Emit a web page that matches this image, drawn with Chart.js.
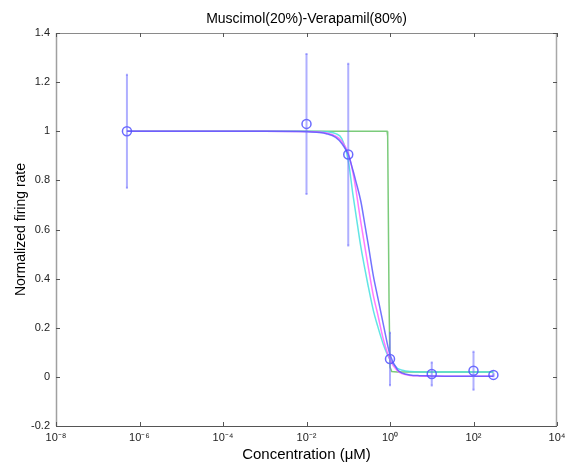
<!DOCTYPE html>
<html>
<head>
<meta charset="utf-8">
<script src="https://cdn.jsdelivr.net/npm/chart.js@4.4.1/dist/chart.umd.min.js"></script>
<style>
  html, body { margin: 0; padding: 0; background: #fff; }
  #wrap { width: 574px; height: 472px; }
</style>
</head>
<body>
<div id="wrap"><canvas id="c" width="574" height="472"></canvas></div>
<script>
// ---- data ----
const chartTitle = 'Muscimol(20%)-Verapamil(80%)';
const xTitle = 'Concentration (\u03BCM)';
const yTitle = 'Normalized firing rate';

const xTickValues = [1e-8, 1e-6, 1e-4, 1e-2, 1e0, 1e2, 1e4];

// measured points (mean +/- error)
const pointX   = [5e-7, 0.01, 0.1, 1, 10, 100, 300];
const pointY   = [1.0, 1.03, 0.905, 0.073, 0.012, 0.025, 0.008];
const pointErr = [0.23, 0.285, 0.37, 0.107, 0.047, 0.077, 0.005];

// fitted curves, values read at these concentrations
const curveX     = [5e-7, 1e-3, 0.01, 0.02, 0.03, 0.05, 0.07, 0.1, 0.13, 0.15, 0.2, 0.25, 0.3, 0.4, 0.5, 0.7, 1, 1.5, 2, 3, 5, 10, 30, 100, 300];
const blueY      = [1, 1, 0.998, 0.995, 0.99, 0.975, 0.95, 0.905, 0.84, 0.80, 0.715, 0.62, 0.54, 0.41, 0.33, 0.21, 0.09, 0.03, 0.015, 0.008, 0.005, 0.004, 0.003, 0.003, 0.003];
const magentaY   = [1, 1, 0.999, 0.997, 0.993, 0.98, 0.96, 0.91, 0.83, 0.77, 0.63, 0.53, 0.45, 0.33, 0.26, 0.15, 0.07, 0.025, 0.012, 0.006, 0.004, 0.003, 0.003, 0.003, 0.003];
const cyanY      = [1, 1, 1, 0.999, 0.998, 0.99, 0.97, 0.88, 0.74, 0.67, 0.53, 0.44, 0.37, 0.27, 0.21, 0.13, 0.07, 0.035, 0.027, 0.022, 0.02, 0.02, 0.02, 0.02, 0.02];
const greenX     = [5e-7, 0.85, 0.88, 0.95, 1.0, 1.1, 1.5, 300];
const greenY     = [1, 1, 0.98, 0.3, 0.04, 0.022, 0.02, 0.02];

// ---- helpers ----
const toXY = (xs, ys) => xs.map((x, i) => ({ x: x, y: ys[i] }));
const SUP = { '-': '\u207B', '0': '\u2070', '1': '\u00B9', '2': '\u00B2', '3': '\u00B3', '4': '\u2074', '5': '\u2075', '6': '\u2076', '7': '\u2077', '8': '\u2078', '9': '\u2079' };
const supStr = s => String(s).split('').map(ch => SUP[ch] || ch).join('');
const fmtY = v => { const r = Math.round(v * 10) / 10; return (Math.abs(r) < 1e-9 ? 0 : r).toString(); };

const FONT = '"Liberation Sans", Arial, Helvetica, sans-serif';

const bgPlugin = {
  id: 'bg',
  beforeDraw(chart) {
    const ctx = chart.ctx;
    ctx.save();
    ctx.fillStyle = '#fff';
    ctx.fillRect(0, 0, chart.width, chart.height);
    ctx.restore();
  }
};

const errorBarPlugin = {
  id: 'errbars',
  afterDatasetsDraw(chart) {
    const { ctx, scales: { x, y } } = chart;
    ctx.save();
    ctx.strokeStyle = 'rgba(110,110,255,0.55)';
    ctx.lineWidth = 2;
    pointX.forEach((vx, i) => {
      const px = x.getPixelForValue(vx);
      const y1 = y.getPixelForValue(pointY[i] + pointErr[i]);
      const y2 = y.getPixelForValue(pointY[i] - pointErr[i]);
      ctx.beginPath();
      ctx.moveTo(px, y1);
      ctx.lineTo(px, y2);
      ctx.stroke();
      ctx.beginPath();
      ctx.moveTo(px - 1, y1); ctx.lineTo(px + 1, y1);
      ctx.moveTo(px - 1, y2); ctx.lineTo(px + 1, y2);
      ctx.stroke();
    });
    ctx.restore();
  }
};

const framePlugin = {
  id: 'frame',
  afterDraw(chart) {
    const { ctx, chartArea: { left, right, top, bottom }, scales: { x, y } } = chart;
    ctx.save();
    ctx.lineWidth = 1;
    ctx.strokeStyle = '#8a8a8a';
    ctx.beginPath();
    ctx.moveTo(left, top + 0.5); ctx.lineTo(right, top + 0.5);
    ctx.stroke();
    ctx.strokeStyle = '#a8a8a8';
    ctx.lineWidth = 1.5;
    ctx.beginPath();
    ctx.moveTo(right - 0.5, top); ctx.lineTo(right - 0.5, bottom);
    ctx.stroke();
    ctx.strokeStyle = '#a0a0a0';
    ctx.beginPath();
    ctx.moveTo(left + 0.5, top); ctx.lineTo(left + 0.5, bottom);
    ctx.stroke();
    ctx.lineWidth = 1;
    ctx.strokeStyle = '#555';
    ctx.beginPath();
    ctx.moveTo(left, bottom + 0.5); ctx.lineTo(right, bottom + 0.5);
    ctx.stroke();
    ctx.strokeStyle = '#555';
    ctx.beginPath();
    x.ticks.forEach(t => {
      const px = Math.round(x.getPixelForValue(t.value)) + 0.5;
      ctx.moveTo(px, bottom); ctx.lineTo(px, bottom - 4);
      ctx.moveTo(px, top); ctx.lineTo(px, top + 4);
    });
    y.ticks.forEach(t => {
      const py = Math.round(y.getPixelForValue(t.value)) + 0.5;
      ctx.moveTo(left, py); ctx.lineTo(left + 4, py);
      ctx.moveTo(right, py); ctx.lineTo(right - 4, py);
    });
    ctx.stroke();
    ctx.fillStyle = '#000';
    ctx.font = '14px ' + FONT;
    ctx.textAlign = 'center';
    ctx.textBaseline = 'middle';
    ctx.fillText(chartTitle, (left + right) / 2, top - 14);
    ctx.restore();
  }
};

const curveStyle = (color) => ({
  borderColor: color,
  backgroundColor: color,
  borderWidth: 1.5,
  pointRadius: 0,
  cubicInterpolationMode: 'monotone',
  fill: false
});

new Chart(document.getElementById('c'), {
  type: 'line',
  data: {
    datasets: [
      {
        label: 'data',
        data: toXY(pointX, pointY),
        showLine: false,
        pointRadius: 4.5,
        pointStyle: 'circle',
        pointBorderColor: 'rgba(80,80,255,0.85)',
        pointBackgroundColor: 'rgba(0,0,0,0)',
        pointBorderWidth: 1.5
      },
      Object.assign({ label: 'fit 1', data: toXY(curveX, blueY) }, curveStyle('rgba(90,90,255,0.85)')),
      Object.assign({ label: 'fit 2', data: toXY(curveX, magentaY) }, curveStyle('rgba(255,90,255,0.8)')),
      Object.assign({ label: 'fit 3', data: toXY(curveX, cyanY) }, curveStyle('rgba(70,225,225,0.85)')),
      Object.assign({ label: 'fit 4', data: toXY(greenX, greenY) }, curveStyle('rgba(90,190,90,0.8)'), { cubicInterpolationMode: 'default', tension: 0 })
    ]
  },
  options: {
    responsive: false,
    animation: false,
    devicePixelRatio: 1,
    layout: { padding: { top: 33, right: 17, left: 0, bottom: 0 } },
    plugins: {
      legend: { display: false },
      tooltip: { enabled: false },
      title: { display: false }
    },
    scales: {
      x: {
        type: 'logarithmic',
        min: 1e-8,
        max: 1e4,
        afterBuildTicks: axis => { axis.ticks = xTickValues.map(v => ({ value: v })); },
        afterFit: s => { s.height = 46; },
        grid: { display: false, drawTicks: false },
        border: { display: false },
        ticks: {
          autoSkip: false,
          maxRotation: 0,
          padding: 5,
          color: '#222',
          font: { family: FONT, size: 11 },
          callback: v => '10' + supStr(Math.round(Math.log10(v)))
        },
        title: {
          display: true,
          text: xTitle,
          color: '#000',
          font: { family: FONT, size: 15 },
          padding: { top: 0, bottom: 8 }
        }
      },
      y: {
        type: 'linear',
        min: -0.2,
        max: 1.4,
        afterFit: s => { s.width = 56; },
        grid: { display: false, drawTicks: false },
        border: { display: false },
        ticks: {
          stepSize: 0.2,
          padding: 6,
          color: '#222',
          font: { family: FONT, size: 11 },
          callback: v => fmtY(v)
        },
        title: {
          display: true,
          text: yTitle,
          color: '#000',
          font: { family: FONT, size: 14 },
          padding: { top: 13, bottom: 0 }
        }
      }
    }
  },
  plugins: [bgPlugin, errorBarPlugin, framePlugin]
});
</script>
</body>
</html>
